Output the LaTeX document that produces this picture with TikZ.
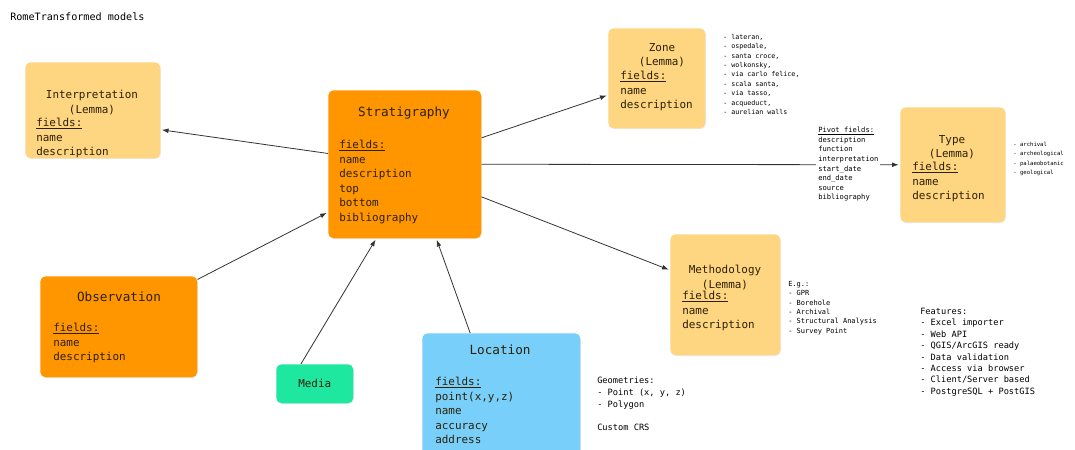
\documentclass[tikz,border=0pt]{standalone}
\usepackage{fontspec}
\setmainfont{DejaVu Sans Mono}
\usetikzlibrary{arrows.meta}
\usetikzlibrary{shadows}
\definecolor{lemmafill}{RGB}{254,213,128}
\definecolor{entityfill}{RGB}{255,150,0}
\definecolor{locfill}{RGB}{120,208,250}
\definecolor{mediafill}{RGB}{30,232,160}
\definecolor{boxtext}{RGB}{45,32,8}
\tikzset{
	model/.style={rectangle, rounded corners=4pt, anchor=north west, inner sep=0pt, drop shadow={shadow xshift=0.5pt, shadow yshift=-0.7pt, opacity=0.15}},
	boxsize/.style 2 args={minimum width={#1*0.75pt}, minimum height={#2*0.75pt}},
	lemma/.style={model, fill=lemmafill},
	entity/.style={model, fill=entityfill},
	heading/.style={text=boxtext, inner sep=0pt, align=center, font=\fontsize{9.5}{11}\selectfont},
	lemmahead/.style={text=boxtext, inner sep=0pt, align=center, anchor=north, font=\fontsize{8.2}{10.9}\selectfont},
	fieldlist/.style={text=boxtext, anchor=north west, inner sep=0pt, align=left, font=\fontsize{8.2}{10.9}\selectfont},
	note/.style 2 args={anchor=north west, inner sep=0pt, align=left, font=\fontsize{#1}{#2}\selectfont},
	link/.style={draw=black!80, line width=0.6pt, shorten >=1pt, -{Latex[length=5pt,width=3.6pt]}}
}
\begin{document}
\begin{tikzpicture}[x=0.75pt, y=-0.75pt]
	\useasboundingbox (0,0) rectangle (1075,450);
	\node[note={7.6}{9}] (title) at (10,12) {RomeTransformed models};

	\node[lemma, boxsize={135}{96}] (interp) at (25,62) {};
	\node[entity, boxsize={153}{148}] (strat) at (328,90) {};
	\node[lemma, boxsize={97}{100}] (zone) at (608,28) {};
	\node[lemma, boxsize={105}{115}] (type) at (900,107) {};
	\node[lemma, boxsize={110}{121}] (meth) at (670,234) {};
	\node[entity, boxsize={157}{101}] (obs) at (40,276) {};
	\node[model, fill=mediafill, boxsize={77}{39}, text=boxtext, font=\fontsize{8.2}{10.9}\selectfont] (media) at (276,364) {Media};
	\node[model, fill=locfill, boxsize={158}{127}] (loc) at (422,333) {};

	\node[lemmahead] (interphead) at (92,90) {Interpretation\\(Lemma)};
	\node[fieldlist] (interpfields) at (36,118) {\underline{fields:}\\name\\description};
	\node[heading] (strathead) at (404,113) {Stratigraphy};
	\node[fieldlist] (stratfields) at (339,140) {\underline{fields:}\\name\\description\\top\\bottom\\bibliography};
	\node[lemmahead] (zonehead) at (662,43) {Zone\\(Lemma)};
	\node[fieldlist] (zonefields) at (620,71) {\underline{fields:}\\name\\description};
	\node[lemmahead] (typehead) at (952,135) {Type\\(Lemma)};
	\node[fieldlist] (typefields) at (912,162) {\underline{fields:}\\name\\description};
	\node[lemmahead] (methhead) at (725,265) {Methodology\\(Lemma)};
	\node[fieldlist] (methfields) at (682,291) {\underline{fields:}\\name\\description};
	\node[heading] (obshead) at (119,297) {Observation};
	\node[fieldlist] (obsfields) at (53,323) {\underline{fields:}\\name\\description};
	\node[heading] (lochead) at (500,350) {Location};
	\node[fieldlist] (locfields) at (435,377) {\underline{fields:}\\point(x,y,z)\\name\\accuracy\\address};

	\draw[link] (strat.172) -- (interp.-16);
	\draw[link] (strat.19) -- (zone.199);
	\draw[link] (strat.east) -- (type.west);
	\draw[link] (strat.-23) -- (meth.156);
	\draw[link] (obs.31) -- (strat.212);
	\draw[link] (media.125) -- (strat.249);
	\draw[link] (loc.116) -- (strat.293);

	\node[note={5}{7.05}] (zonelist) at (723,34) {- lateran,\\- ospedale,\\- santa croce,\\- wolkonsky,\\- via carlo felice,\\- scala santa,\\- via tasso,\\- acqueduct,\\- aurelian walls};
	\node[note={5.35}{7.2}, fill=white, inner sep=1.5pt] (pivot) at (816,125) {\underline{Pivot fields:}\\description\\function\\interpretation\\start\_date\\end\_date\\source\\bibliography};
	\node[note={4.2}{7}] (typelist) at (1013,142) {- archival\\- archeological\\- palaeobotanic\\- geological};
	\node[note={5.25}{7.05}] (eglist) at (788,281) {E.g.:\\- GPR\\- Borehole\\- Archival\\- Structural Analysis\\- Survey Point};
	\node[note={6.5}{8.7}] (geomlist) at (597,377) {Geometries:\\- Point (x, y, z)\\- Polygon\\[8.6pt]Custom CRS};
	\node[note={6.5}{8.55}] (features) at (920,308) {Features:\\- Excel importer\\- Web API\\- QGIS/ArcGIS ready\\- Data validation\\- Access via browser\\- Client/Server based\\- PostgreSQL + PostGIS};
\end{tikzpicture}
\end{document}
